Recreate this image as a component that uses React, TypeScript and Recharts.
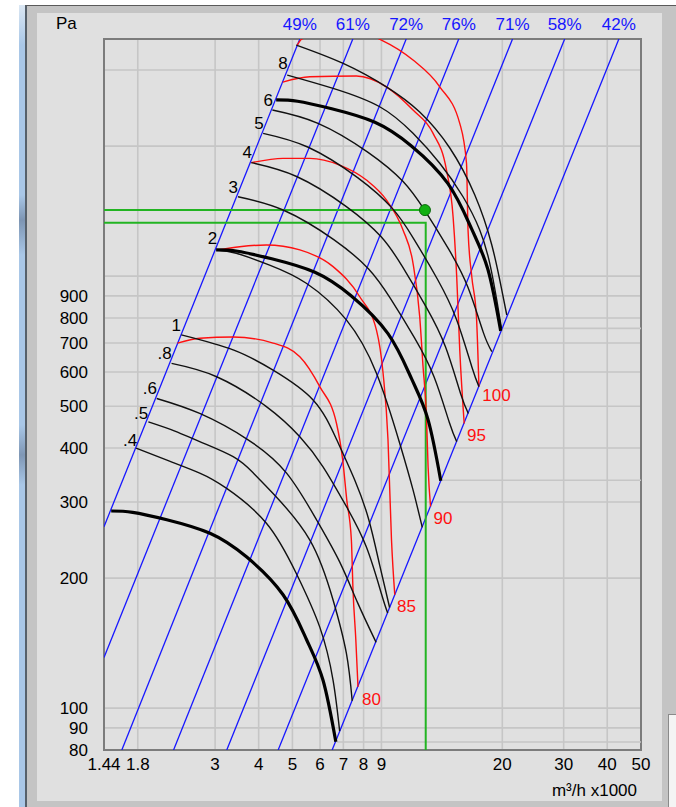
import React from 'react';
import {
  ComposedChart,
  Line,
  Scatter,
  XAxis,
  YAxis,
  CartesianGrid,
  ReferenceDot,
  ReferenceArea,
} from 'recharts';

// axes (airflow in m³/h x1000, pressure in Pa), both logarithmic
const Q_MIN = 1.44;
const Q_MAX = 50;
const P_MIN = 80;
const P_MAX = 3540;
const qTicks = [1.44, 1.8, 3, 4, 5, 6, 7, 8, 9, 20, 30, 40, 50];
const pTicks = [80, 90, 100, 200, 300, 400, 500, 600, 700, 800, 900, 1000, 2000, 3000];

// efficiency rays (P ~ Q²), bottom/left point and top point
const effLabels = ['49%', '61%', '72%', '76%', '71%', '58%', '42%'];
const effLowQ = [1.44, 1.44, 1.62, 2.28, 3.24, 4.55, 6.5];
const effLowP = [263, 131, 80, 80, 80, 80, 80];
const effTopQ = [5.25, 7.45, 10.6, 15.0, 21.4, 30.2, 43.2];

// heavy fan curves
const qA = [1.51, 1.74, 2.18, 2.9, 3.69, 4.7, 5.49, 6.12, 6.66];
const pA = [286, 284, 273, 254, 224, 183, 144, 116, 83.6];
const q2 = [3.02, 3.48, 4.36, 5.8, 7.38, 9.4, 10.98, 12.24, 13.32];
const p2 = [1150, 1142, 1097, 1021, 900, 736, 579, 466, 336];
const q6 = [4.49, 5.17, 6.48, 8.62, 10.97, 13.97, 16.32, 18.19, 19.79];
const p6 = [2558, 2540, 2440, 2271, 2002, 1637, 1288, 1036, 747];

// thin fan curves
const q04 = [1.78, 2.22, 2.71, 3.23, 4.21, 5.13, 5.99, 6.54, 6.83];
const p04 = [400, 373, 350, 323, 268, 205, 154, 116, 88.5];
const q05 = [1.93, 2.3, 2.71, 3.38, 3.85, 4.4, 5.61, 6.54, 7.14, 7.42];
const p05 = [460, 438, 414, 382, 351, 314, 245, 178, 134, 104];
const q06 = [2.04, 2.71, 3.73, 4.81, 5.86, 6.83, 7.7, 8.69];
const p06 = [521, 481, 418, 350, 273, 218, 175, 142];
const q08 = [2.25, 3.03, 4.21, 5.25, 6.12, 7.14, 8.15, 9.0, 9.38];
const p08 = [628, 585, 499, 425, 362, 293, 236, 184, 166];
const q1 = [2.4, 3.38, 4.4, 5.73, 6.7, 7.55, 8.28, 8.9, 9.5];
const p1 = [731, 675, 606, 517, 418, 337, 273, 214, 171];
const q2b = [3.04, 3.45, 4.3, 5.48, 7.14, 8.71, 10.16, 11.09, 11.79];
const p2b = [1150, 1130, 1061, 963, 792, 596, 410, 320, 262];
const q3 = [3.49, 4.72, 6.57, 8.27, 9.55, 11.19, 12.74, 14.09, 14.8];
const p3 = [1527, 1421, 1215, 1039, 888, 721, 585, 459, 414];
const q4 = [3.81, 5.14, 7.14, 8.97, 10.34, 12.09, 13.74, 15.18, 15.98];
const p4 = [1831, 1701, 1449, 1235, 1052, 849, 686, 535, 481];
const q5 = [4.12, 5.55, 7.69, 9.66, 11.13, 13.02, 14.79, 16.34, 17.14];
const p5 = [2141, 1988, 1691, 1437, 1222, 985, 793, 618, 555];
const q5b = [4.38, 5.92, 8.24, 10.37, 11.97, 14.02, 15.95, 17.64, 18.66];
const p5b = [2424, 2258, 1935, 1658, 1421, 1156, 941, 741, 669];
const q8 = [4.83, 6.54, 8.9, 11.09, 13.23, 15.43, 17.23, 18.41, 19.28, 19.89];
const p8 = [2921, 2721, 2467, 2141, 1825, 1527, 1279, 1071, 881, 757];
const q10 = [5.13, 6.99, 9.3, 11.59, 14.14, 16.68, 18.66, 19.93, 20.6];
const p10 = [3428, 3109, 2744, 2399, 1980, 1541, 1181, 929, 813];

// sound level contours, dB
const q80 = [2.34, 2.71, 3.38, 4.4, 5.25, 5.99, 6.69, 6.97, 7.16, 7.38, 7.46, 7.6, 7.71];
const p80 = [700, 718, 723, 700, 651, 555, 456, 375, 303, 245, 188, 144, 112];
const q85 = [3.04, 3.53, 4.21, 5.25, 6.54, 7.8, 8.71, 9.1, 9.4, 9.62, 9.83];
const p85 = [1150, 1170, 1181, 1150, 1052, 896, 750, 596, 418, 245, 183];
const q90 = [3.81, 4.7, 5.61, 6.83, 8.15, 9.3, 10.38, 11.09, 11.59, 11.85, 12.12, 12.25, 12.45];
const p90 = [1831, 1874, 1874, 1808, 1669, 1501, 1279, 1071, 806, 617, 473, 362, 293];
const q95 = [4.69, 5.61, 7.63, 9.3, 11.09, 12.66, 13.83, 14.45, 14.8, 15.1, 15.55];
const p95 = [2814, 2895, 2906, 2744, 2424, 2141, 1761, 1373, 997, 675, 456];
const q100 = [5.16, 5.32, 6.4, 7.8, 9.0, 11.09, 13.23, 15.1, 15.79, 15.95, 16.35, 16.86, 17.14];
const p100 = [3428, 3539, 3674, 3674, 3520, 3164, 2744, 2258, 1825, 1279, 997, 806, 555];

// curve captions
const fanLabels = ['.4', '.5', '.6', '.8', '1', '2', '3', '4', '5', '6', '8'];
const fanLabelQ = [1.71, 1.84, 1.95, 2.15, 2.32, 2.95, 3.38, 3.71, 4.01, 4.26, 4.7];
const fanLabelP = [418, 483, 550, 663, 771, 1223, 1611, 1941, 2266, 2557, 3109];
const dbLabels = ['80', '85', '90', '95', '100'];
const dbLabelQ = [8.43, 10.62, 13.52, 16.86, 19.25];
const dbLabelP = [105, 172, 275, 429, 531];

// ends of the heavy curves carried across to the right edge
const endRowP = [757, 337, 83.5];
const endRowQ = [19.9, 13.3, 6.7];

// duty point and its guide lines
const dutyQ = 12.0;
const dutyP = 1422;
const guideQ = [1.44, 12.06, 12.06];
const guideP = [1330, 1330, 80];

const pts = (q: number[], p: number[]) => q.map((v, i) => ({ q: v, p: p[i] }));

const thinFans = [
  pts(q04, p04), pts(q05, p05), pts(q06, p06), pts(q08, p08), pts(q1, p1),
  pts(q2b, p2b), pts(q3, p3), pts(q4, p4), pts(q5, p5), pts(q5b, p5b),
  pts(q8, p8), pts(q10, p10),
];
const heavyFans = [pts(qA, pA), pts(q2, p2), pts(q6, p6)];
const dbCurves = [pts(q80, p80), pts(q85, p85), pts(q90, p90), pts(q95, p95), pts(q100, p100)];

const FONT = '"Liberation Sans", Arial, sans-serif';
const BLUE = '#1616ff';
const RED = '#ff1010';
const GREEN = '#22b422';

const DutyDot = (props: any) => (
  <circle cx={props.cx} cy={props.cy} r={5.5} fill="#12b012" stroke="#0b6a0b" strokeWidth={1} />
);

export default function App() {
  return (
    <div
      style={{
        position: 'absolute', left: 0, top: 0, width: 676, height: 807,
        background: '#fff', overflow: 'hidden', fontFamily: FONT,
      }}
    >
      <div style={{ position: 'absolute', left: 19, top: 5, width: 7, height: 802,
        background: 'linear-gradient(#dbe7f3 0px, #a9c7e7 40px, #a9c7e7 190px, #7d95b3 215px, #a9c7e7 250px, #a9c7e7 420px, #7f97b5 450px, #a9c7e7 480px, #a9c7e7 807px)' }} />
      <div style={{ position: 'absolute', left: 25, top: 5, width: 651, height: 802,
        background: '#c4c4c4', borderTop: '1px solid #5a5a5a', borderLeft: '2px solid #56606a', boxSizing: 'border-box' }} />
      <div style={{ position: 'absolute', left: 37, top: 13, width: 625, height: 788, background: '#e0e0e0' }} />
      <div style={{ position: 'absolute', left: 668, top: 714, width: 12, height: 100,
        background: '#f4f4f4', border: '1px solid #8a8a8a', boxSizing: 'border-box' }} />
      <div style={{ position: 'absolute', left: 56, top: 15, fontSize: 17, lineHeight: '17px', color: '#000' }}>Pa</div>
      <div style={{ position: 'absolute', right: 39, top: 782, fontSize: 17, lineHeight: '17px', color: '#000', whiteSpace: 'nowrap' }}>
        m³/h x1000
      </div>

      <div style={{ position: 'absolute', left: 0, top: 0 }}>
        <ComposedChart width={676} height={807} margin={{ top: 39, right: 35, bottom: 27, left: 44 }}>
          <CartesianGrid stroke="#c6c6c6" strokeWidth={1.6} />
          <XAxis
            dataKey="q"
            type="number"
            scale="log"
            domain={[Q_MIN, Q_MAX]}
            allowDataOverflow
            ticks={qTicks}
            interval={0}
            height={30}
            axisLine={false}
            tickLine={false}
            tickSize={0}
            tickMargin={8}
            tick={{ fill: '#000', fontSize: 17 }}
          />
          <YAxis
            dataKey="p"
            type="number"
            scale="log"
            domain={[P_MIN, P_MAX]}
            allowDataOverflow
            ticks={pTicks}
            interval={0}
            width={60}
            axisLine={false}
            tickLine={false}
            tickSize={0}
            tickMargin={16}
            tick={{ fill: '#000', fontSize: 17 }}
            tickFormatter={(v: number) => (v >= 1000 ? '' : String(v))}
          />

          {endRowP.map((p, i) => (
            <Line key={`row${i}`} data={pts([endRowQ[i], Q_MAX], [p, p])} dataKey="p" type="linear"
              stroke="#c6c6c6" strokeWidth={1.6} dot={false} activeDot={false} isAnimationActive={false} />
          ))}

          {effLabels.map((_, i) => (
            <Line key={`eff${i}`} data={pts([effLowQ[i], effTopQ[i]], [effLowP[i], P_MAX])} dataKey="p"
              type="linear" stroke={BLUE} strokeWidth={1.3} dot={false} activeDot={false} isAnimationActive={false} />
          ))}

          <Line data={pts([Q_MIN, dutyQ], [dutyP, dutyP])} dataKey="p" type="linear" stroke={GREEN}
            strokeWidth={2} dot={false} activeDot={false} isAnimationActive={false} />
          <Line data={pts(guideQ, guideP)} dataKey="p" type="linear" stroke={GREEN}
            strokeWidth={2} dot={false} activeDot={false} isAnimationActive={false} />

          {dbCurves.map((d, i) => (
            <Line key={`db${i}`} data={d} dataKey="p" type="monotone" stroke={RED} strokeWidth={1.4}
              dot={false} activeDot={false} isAnimationActive={false} />
          ))}
          {thinFans.map((d, i) => (
            <Line key={`fan${i}`} data={d} dataKey="p" type="natural" stroke="#111" strokeWidth={1.4}
              dot={false} activeDot={false} isAnimationActive={false} />
          ))}
          {heavyFans.map((d, i) => (
            <Line key={`heavy${i}`} data={d} dataKey="p" type="natural" stroke="#000" strokeWidth={3.2}
              dot={false} activeDot={false} isAnimationActive={false} />
          ))}

          <Scatter data={[{ q: dutyQ, p: dutyP }]} dataKey="p" shape={DutyDot} isAnimationActive={false} />

          <ReferenceArea x1={Q_MIN} x2={Q_MAX} y1={P_MIN} y2={P_MAX} fill="none" stroke="#7c7c7c"
            strokeWidth={2} ifOverflow="visible" />

          {effLabels.map((t, i) => (
            <ReferenceDot key={`effl${i}`} x={effTopQ[i]} y={P_MAX} r={0} fill="none" stroke="none"
              ifOverflow="visible" label={{ value: t, position: 'top', offset: 9, fill: BLUE, fontSize: 17 }} />
          ))}
          {fanLabels.map((t, i) => (
            <ReferenceDot key={`fanl${i}`} x={fanLabelQ[i]} y={fanLabelP[i]} r={0} fill="none" stroke="none"
              ifOverflow="visible" label={{ value: t, position: 'center', fill: '#000', fontSize: 17 }} />
          ))}
          {dbLabels.map((t, i) => (
            <ReferenceDot key={`dbl${i}`} x={dbLabelQ[i]} y={dbLabelP[i]} r={0} fill="none" stroke="none"
              ifOverflow="visible" label={{ value: t, position: 'center', fill: RED, fontSize: 17 }} />
          ))}
        </ComposedChart>
      </div>
    </div>
  );
}
